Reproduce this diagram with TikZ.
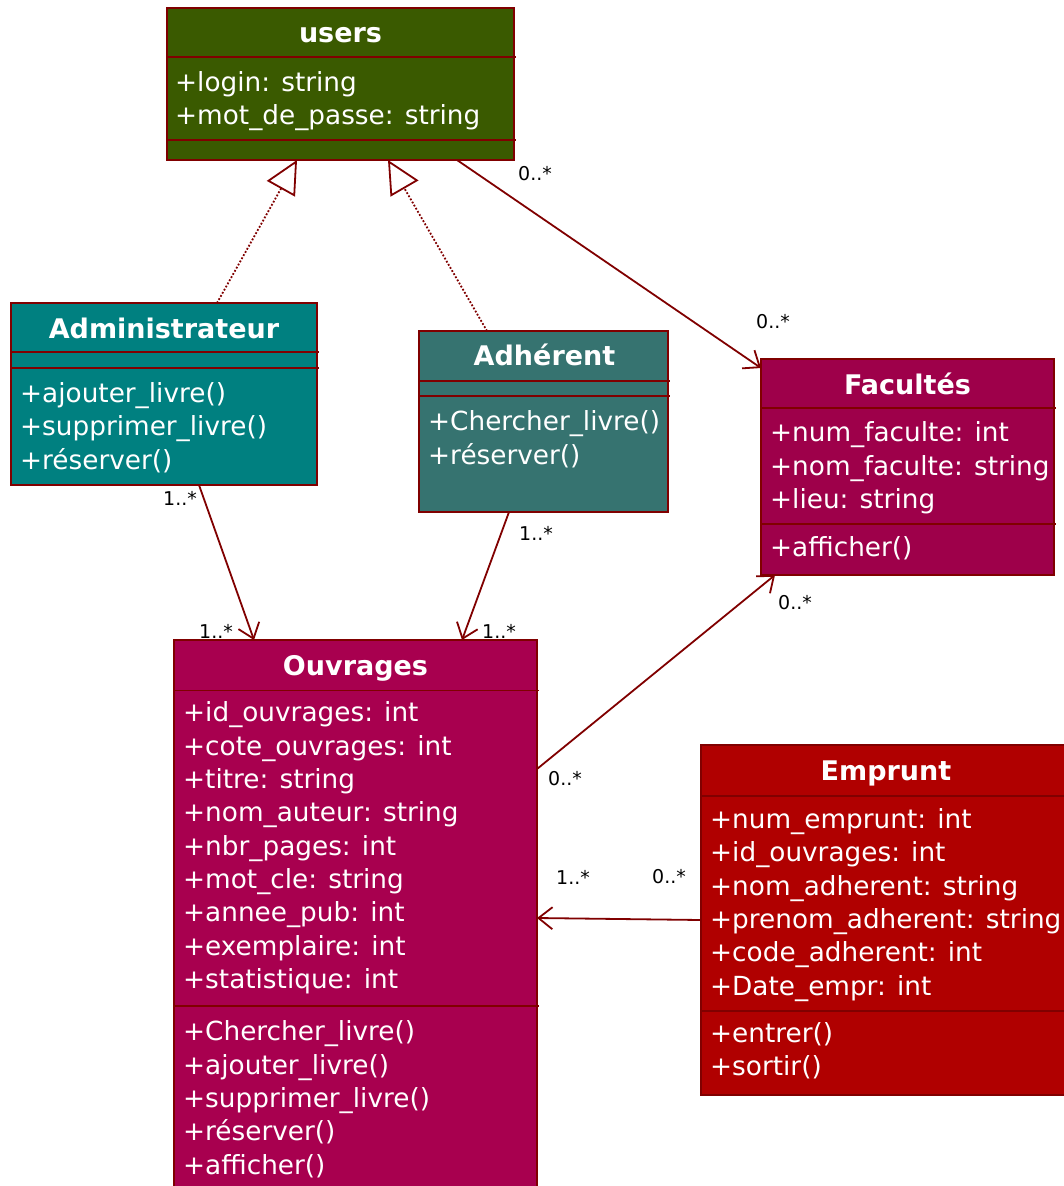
\documentclass[tikz,border=0pt]{standalone}
\usepackage{fontspec}
\setmainfont{DejaVu Sans}
\usetikzlibrary{arrows.meta}

\definecolor{edgered}{HTML}{800000}
\definecolor{usersfill}{HTML}{3A5A00}
\definecolor{adminfill}{HTML}{008080}
\definecolor{adhfill}{HTML}{367370}
\definecolor{facfill}{HTML}{9E004A}
\definecolor{ouvfill}{HTML}{A8004F}
\definecolor{empfill}{HTML}{B00000}

% one member line per entry, 33.35pt apart, starting at (x, y)
\newcommand\memberlines[4]{%
  \foreach \txt [count=\k] in {#4}{%
    \node[member] (#1-\k) at (#2,{#3+3.5+33.35*(\k-1)}) {\txt};}}

\begin{document}
\begin{tikzpicture}[x=1pt,y=-1pt,
  classbox/.style={draw=edgered, line width=1.7pt, rectangle, inner sep=0pt,
    outer sep=0pt, anchor=north west},
  sepline/.style={draw=edgered, line width=1.7pt},
  ctitle/.style={text=white, font=\bfseries\fontsize{27}{31}\selectfont,
    inner sep=0pt, anchor=mid, yshift=-4.5pt},
  member/.style={text=white, font=\fontsize{26.3}{31}\selectfont,
    inner sep=0pt, anchor=mid west},
  mult/.style={text=black, font=\fontsize{19}{22}\selectfont, inner sep=0pt},
  assoc/.style={draw=edgered, line width=1.8pt,
    -{Straight Barb[length=14pt, width=22pt]}},
  realize/.style={draw=edgered, line width=1.8pt, dash pattern=on 1.8pt off 1.8pt,
    -{Triangle[open, length=33pt, width=32pt, fill=white]}}]

\useasboundingbox (0,0) rectangle (1064,1186);
\clip (0,0) rectangle (1064,1186);

% ---- users
\node[classbox, fill=usersfill, minimum width=347pt, minimum height=152pt] (users) at (167,8) {};
\draw[sepline] (167,57) -- (516,57);
\draw[sepline] (167,140) -- (516,140);
\node[ctitle] (users-t) at (340.5,35) {users};
\memberlines{users-a}{175}{85.3}{+login: string, +mot\_de\_passe: string}

% ---- Administrateur
\node[classbox, fill=adminfill, minimum width=306pt, minimum height=182pt] (admin) at (11,303) {};
\draw[sepline] (11,352) -- (319,352);
\draw[sepline] (11,368) -- (319,368);
\node[ctitle] (admin-t) at (164,331) {Administrateur};
\memberlines{admin-m}{20}{396.2}{+ajouter\_livre(), +supprimer\_livre(), +réserver()}

% ---- Adhérent
\node[classbox, fill=adhfill, minimum width=249pt, minimum height=181pt] (adh) at (419,331) {};
\draw[sepline] (419,381) -- (670,381);
\draw[sepline] (419,396) -- (670,396);
\node[ctitle] (adh-t) at (544.5,358) {Adhérent};
\memberlines{adh-m}{428}{424.6}{+Chercher\_livre(), +réserver()}

% ---- Facultés
\node[classbox, fill=facfill, minimum width=293pt, minimum height=216pt] (fac) at (761,359) {};
\draw[sepline] (761,408) -- (1056,408);
\draw[sepline] (761,524) -- (1056,524);
\node[ctitle] (fac-t) at (907.5,387) {Facultés};
\memberlines{fac-a}{770}{435.6}{+num\_faculte: int, +nom\_faculte: string, +lieu: string}
\memberlines{fac-m}{770}{550.2}{+afficher()}

% ---- Ouvrages
\node[classbox, fill=ouvfill, minimum width=363pt, minimum height=570pt] (ouv) at (174,640) {};
\draw[sepline] (174,690.5) -- (539,690.5);
\draw[sepline] (174,1006) -- (539,1006);
\node[ctitle] (ouv-t) at (355.5,668) {Ouvrages};
\memberlines{ouv-a}{183}{715.6}{+id\_ouvrages: int, +cote\_ouvrages: int, +titre: string,
  +nom\_auteur: string, +nbr\_pages: int, +mot\_cle: string, +annee\_pub: int,
  +exemplaire: int, +statistique: int}
\memberlines{ouv-m}{183}{1034.6}{+Chercher\_livre(), +ajouter\_livre(), +supprimer\_livre(),
  +réserver(), +afficher()}

% ---- Emprunt
\node[classbox, fill=empfill, minimum width=370pt, minimum height=350pt] (emp) at (701,745) {};
\draw[sepline] (701,796) -- (1071,796);
\draw[sepline] (701,1011) -- (1071,1011);
\node[ctitle] (emp-t) at (886,773.5) {Emprunt};
\memberlines{emp-a}{710}{822.2}{+num\_emprunt: int, +id\_ouvrages: int, +nom\_adherent: string,
  +prenom\_adherent: string, +code\_adherent: int, +Date\_empr: int}
\memberlines{emp-m}{710}{1036}{+entrer(), +sortir()}

% ---- realizations
\draw[realize] ([xshift=53pt]admin.north) -- ([xshift=-43.5pt]users.south);
\draw[realize] ([xshift=-56.5pt]adh.north) -- ([xshift=47.5pt]users.south);

% ---- associations
\draw[assoc] ([xshift=116.5pt]users.south) -- ([yshift=-9pt]fac.north west);
\draw[assoc] ([xshift=35pt]admin.south) -- ([xshift=-101.5pt]ouv.north);
\draw[assoc] ([xshift=-34.5pt]adh.south) -- ([xshift=106.5pt]ouv.north);
\draw[assoc] ([yshift=-129pt]ouv.north east) -- ([xshift=-132.5pt]fac.south);
\draw[assoc] ([yshift=-175pt]emp.north west) -- ([yshift=-278pt]ouv.north east);

% ---- multiplicities
\node[mult] (m1) at (535,174) {0..*};
\node[mult] (m2) at (773,322) {0..*};
\node[mult] (m3) at (180,498) {1..*};
\node[mult] (m4) at (216,631) {1..*};
\node[mult] (m5) at (536,533) {1..*};
\node[mult] (m6) at (499,631) {1..*};
\node[mult] (m7) at (565,779) {0..*};
\node[mult] (m8) at (795,603) {0..*};
\node[mult] (m9) at (573,877) {1..*};
\node[mult] (m10) at (669,877) {0..*};
\end{tikzpicture}
\end{document}
